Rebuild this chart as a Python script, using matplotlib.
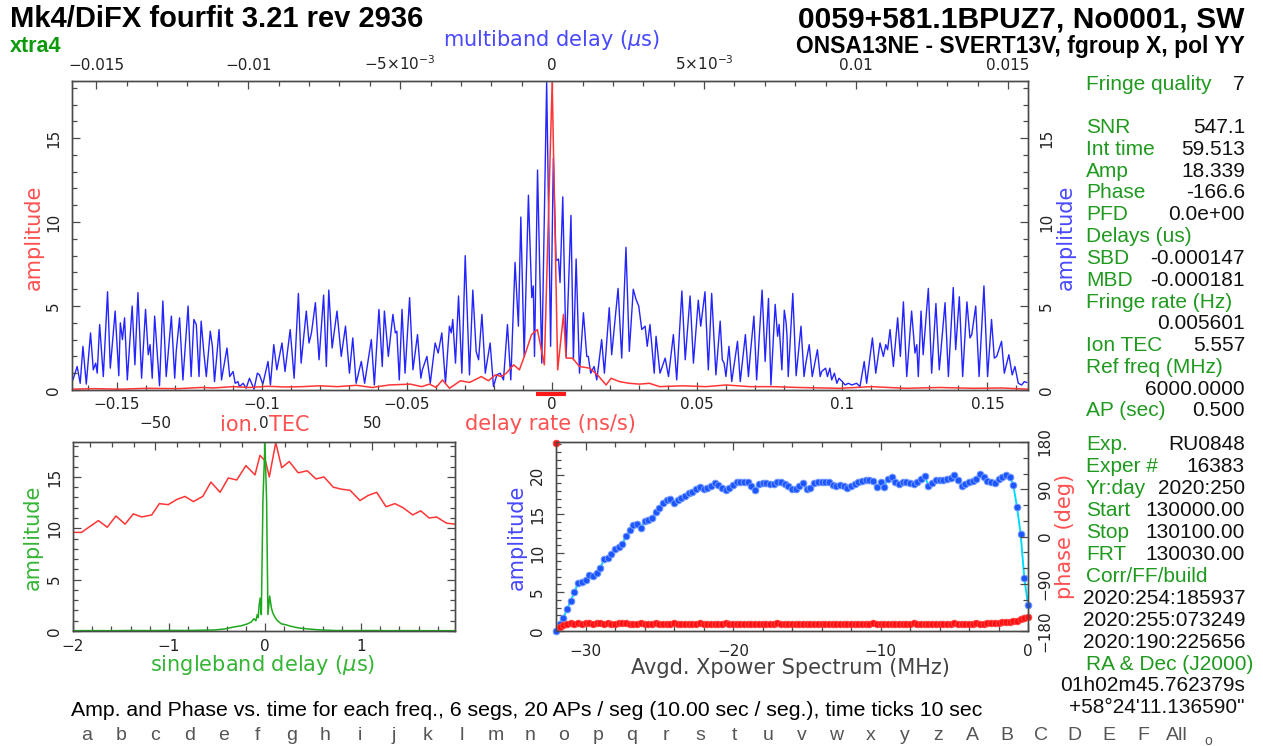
#!/usr/bin/env python3
"""Fourfit-style fringe plot: delay/rate functions, SBD/TEC, cross-power spectrum."""

import numpy as np
import matplotlib

matplotlib.use("Agg")
import matplotlib.pyplot as plt
import matplotlib.transforms as mtransforms
from matplotlib.ticker import MultipleLocator, FuncFormatter

W, H = 1263, 746

# ---- top panel: multiband delay function (ns of MBD) and delay-rate function (ns/s)
MBD_NS = [
    -15.77, -15.63, -15.53, -15.44, -15.33, -15.19, -15.10, -15.02, -14.97, -14.89,
    -14.77, -14.63, -14.54, -14.38, -14.26, -14.21, -14.14, -14.07, -13.98, -13.82,
    -13.73, -13.63, -13.51, -13.38, -13.29, -13.23, -13.16, -13.08, -12.92, -12.81,
    -12.70, -12.53, -12.42, -12.37, -12.26, -12.15, -11.98, -11.88, -11.79, -11.71,
    -11.62, -11.55, -11.46, -11.38, -11.25, -11.18, -11.11, -10.96, -10.88, -10.70,
    -10.61, -10.50, -10.43, -10.34, -10.29, -10.17, -10.07, -9.96, -9.81, -9.70,
    -9.63, -9.52, -9.35, -9.27, -9.16, -9.06, -8.89, -8.79, -8.62, -8.49,
    -8.35, -8.26, -8.09, -8.00, -7.92, -7.79, -7.67, -7.52, -7.43, -7.35,
    -7.24, -7.08, -6.94, -6.80, -6.67, -6.56, -6.45, -6.28, -6.17, -5.95,
    -5.85, -5.70, -5.59, -5.52, -5.39, -5.24, -5.16, -5.11, -5.03, -4.94,
    -4.84, -4.69, -4.58, -4.43, -4.32, -4.27, -4.12, -4.01, -3.85, -3.75,
    -3.63, -3.51, -3.38, -3.32, -3.27, -3.18, -3.08, -2.97, -2.86, -2.72,
    -2.61, -2.50, -2.42, -2.31, -2.20, -2.04, -1.93, -1.82, -1.71, -1.60,
    -1.47, -1.36, -1.22, -1.11, -1.03, -0.92, -0.78, -0.67, -0.62, -0.58,
    -0.48, -0.34, -0.18, -0.05, 0.04, 0.13, 0.21, 0.26, 0.35, 0.46,
    0.62, 0.70, 0.79, 0.90, 1.03, 1.14, 1.19, 1.27, 1.38, 1.47,
    1.63, 1.72, 1.88, 1.96, 2.17, 2.29, 2.43, 2.54, 2.67, 2.76,
    2.85, 2.95, 3.06, 3.13, 3.22, 3.36, 3.42, 3.55, 3.72, 3.83,
    3.99, 4.10, 4.27, 4.38, 4.54, 4.65, 4.81, 4.89, 5.03, 5.14,
    5.25, 5.39, 5.53, 5.60, 5.66, 5.72, 5.82, 5.91, 6.10, 6.19,
    6.36, 6.46, 6.52, 6.64, 6.73, 6.91, 7.01, 7.12, 7.20, 7.34,
    7.42, 7.47, 7.56, 7.64, 7.70, 7.73, 7.77, 7.92, 8.03, 8.19,
    8.29, 8.35, 8.46, 8.56, 8.73, 8.82, 8.87, 9.00, 9.06, 9.14,
    9.20, 9.29, 9.37, 9.44, 9.55, 9.64, 9.75, 9.86, 10.02, 10.13,
    10.27, 10.35, 10.54, 10.65, 10.79, 10.90, 10.98, 11.04, 11.12, 11.23,
    11.37, 11.46, 11.56, 11.67, 11.83, 11.94, 12.00, 12.05, 12.14, 12.21,
    12.38, 12.49, 12.63, 12.74, 12.93, 13.04, 13.20, 13.28, 13.40, 13.51,
    13.65, 13.75, 13.81, 13.94, 14.05, 14.21, 14.33, 14.46, 14.55, 14.63,
    14.79, 14.88, 15.03, 15.14, 15.23, 15.34, 15.45, 15.54, 15.62,
]
MBD_AMP = [
    0.6, 1.4, 0.4, 2.6, 0.35, 3.4, 1.2, 1.6, 1.0, 3.9,
    0.8, 5.85, 1.3, 4.7, 0.85, 4.0, 3.0, 4.3, 0.6, 5.0,
    1.5, 5.8, 0.7, 4.8, 2.1, 2.7, 0.7, 4.4, 0.25, 5.3,
    0.8, 4.4, 0.7, 2.3, 4.3, 0.6, 5.0, 0.8, 4.2, 3.9,
    0.8, 4.1, 2.2, 0.8, 3.5, 2.6, 0.5, 3.6, 0.6, 2.5,
    0.8, 1.1, 0.4, 0.5, 0.2, 0.4, 0.1, 0.7, 0.05, 1.0,
    0.9, 0.35, 1.7, 0.3, 2.7, 1.2, 2.8, 1.1, 3.6, 0.7,
    5.75, 1.6, 4.7, 2.8, 3.4, 5.2, 1.8, 5.65, 1.4, 5.95,
    2.5, 4.7, 2.0, 3.8, 1.0, 3.1, 0.4, 1.7, 0.4, 3.0,
    0.3, 4.8, 1.4, 4.7, 2.0, 4.5, 3.4, 3.5, 0.6, 4.8,
    1.0, 5.5, 1.2, 3.3, 0.7, 1.2, 2.0, 0.4, 2.8, 2.2,
    3.4, 0.4, 3.8, 3.4, 4.2, 1.6, 5.6, 1.0, 8.0, 0.9,
    5.95, 2.3, 1.8, 4.5, 1.0, 2.8, 0.2, 0.9, 1.0, 0.6,
    3.9, 0.6, 7.6, 3.8, 10.3, 2.0, 11.6, 5.5, 6.2, 2.0,
    13.1, 1.6, 18.34, 2.6, 13.8, 7.7, 7.8, 6.4, 11.5, 2.0,
    10.4, 1.8, 7.8, 1.0, 4.6, 2.0, 2.0, 1.0, 1.4, 0.6,
    3.0, 1.0, 4.9, 2.1, 6.05, 1.9, 8.5, 2.3, 6.0, 5.4,
    5.0, 3.6, 3.8, 2.6, 3.9, 1.0, 3.2, 1.0, 1.9, 0.8,
    3.3, 0.6, 5.9, 1.8, 5.6, 1.6, 5.35, 3.8, 5.85, 1.2,
    5.75, 0.9, 4.1, 1.8, 1.6, 0.8, 2.6, 0.5, 2.9, 0.5,
    3.3, 0.8, 2.1, 4.4, 0.6, 5.95, 1.7, 5.45, 0.3, 5.1,
    3.2, 3.9, 1.2, 4.75, 4.0, 3.2, 0.8, 5.75, 0.85, 3.8,
    0.8, 1.6, 2.7, 0.8, 2.4, 0.8, 1.1, 1.3, 0.8, 1.3,
    0.6, 1.0, 0.4, 0.7, 0.5, 0.3, 0.4, 0.3, 0.4, 0.2,
    1.7, 0.4, 3.1, 1.0, 2.8, 2.0, 2.7, 2.4, 3.6, 1.4,
    4.3, 2.0, 5.25, 0.8, 4.7, 2.2, 2.7, 0.8, 4.7, 2.1,
    6.05, 1.0, 5.15, 1.2, 5.2, 0.8, 6.1, 2.4, 5.55, 0.8,
    5.25, 3.1, 3.3, 5.0, 0.8, 6.2, 0.8, 4.2, 1.9, 2.0,
    2.9, 1.0, 2.1, 0.9, 1.4, 0.4, 0.3, 0.5, 0.45,
]
RATE = [
    -0.1654, -0.158, -0.149, -0.140, -0.1288, -0.121, -0.1168, -0.110, -0.1044, -0.098,
    -0.0920, -0.086, -0.0802, -0.074, -0.0675, -0.062, -0.0561, -0.0489, -0.0450, -0.0423,
    -0.0400, -0.0378, -0.0354, -0.0316, -0.0285, -0.0244, -0.0220, -0.0196, -0.0175, -0.0158,
    -0.0133, -0.0113, -0.0096, -0.0071, -0.0051, -0.0027, 0.0, 0.0019, 0.0039, 0.0048,
    0.0070, 0.0094, 0.0129, 0.0156, 0.0186, 0.0203, 0.0232, 0.0265, 0.0301, 0.0335,
    0.0370, 0.0450, 0.0531, 0.060, 0.0680, 0.0760, 0.085, 0.0991, 0.110, 0.122,
    0.1336, 0.145, 0.155, 0.1639,
]
RATE_AMP = [
    0.05, 0.08, 0.05, 0.1, 0.08, 0.15, 0.12, 0.2, 0.15, 0.22,
    0.18, 0.2, 0.25, 0.2, 0.28, 0.15, 0.3, 0.35, 0.2, 0.35,
    0.15, 0.6, 0.1, 0.55, 0.45, 0.8, 0.55, 0.9, 0.8, 1.0,
    1.5, 1.2, 2.0, 3.3, 3.6, 1.5, 18.34, 1.2, 4.5, 1.9,
    1.9, 1.4, 1.3, 0.9, 0.3, 0.7, 0.5, 0.4, 0.35, 0.4,
    0.2, 0.25, 0.2, 0.3, 0.2, 0.2, 0.15, 0.1, 0.2, 0.1,
    0.15, 0.1, 0.12, 0.05,
]
RATE_WINDOW = [-0.0055, 0.0048]

# ---- bottom left: singleband delay (us) and ionosphere TEC search
SBD_US = [
    -2.0, -1.8, -1.6, -1.4, -1.2, -1.0, -0.8, -0.66, -0.525, -0.42,
    -0.32, -0.25, -0.18, -0.14, -0.115, -0.095, -0.08, -0.07, -0.062, -0.05,
    -0.038, -0.021, 0.0, 0.017, 0.031, 0.049, 0.066, 0.08, 0.1, 0.13,
    0.17, 0.22, 0.274, 0.35, 0.446, 0.55, 0.72, 0.9, 1.1, 1.3,
    1.5, 1.7, 1.98,
]
SBD_AMP = [
    0.03, 0.04, 0.03, 0.05, 0.04, 0.06, 0.05, 0.08, 0.1, 0.2,
    0.4, 0.5, 0.7, 0.9, 1.2, 1.0, 1.6, 1.3, 2.4, 3.2,
    1.6, 12.7, 18.34, 12.7, 1.6, 3.4, 2.3, 1.8, 1.4, 1.0,
    0.7, 0.6, 0.45, 0.3, 0.2, 0.12, 0.05, 0.04, 0.05, 0.03,
    0.04, 0.03, 0.03,
]
TEC = [
    -88.0, -84.0, -76.2, -72.1, -68.1, -63.9, -60.1, -56.2, -51.6, -48.1,
    -44.0, -40.1, -36.3, -32.4, -28.1, -24.3, -20.1, -16.3, -12.4, -8.2,
    -4.0, -1.7, 0.9, 2.6, 5.56, 8.3, 11.8, 15.9, 20.1, 24.1,
    27.8, 32.1, 36.0, 39.8, 44.4, 48.2, 52.1, 56.4, 60.5, 64.3,
    68.7, 72.4, 76.3, 79.7, 84.3, 88.2,
]
TEC_AMP = [
    9.6, 9.6, 10.75, 10.1, 11.2, 10.4, 11.4, 11.1, 11.3, 12.4,
    12.3, 12.8, 13.1, 12.6, 13.1, 14.5, 13.5, 14.9, 14.7, 16.1,
    15.2, 17.1, 16.5, 15.0, 18.34, 15.9, 16.5, 15.4, 15.6, 14.8,
    15.0, 14.0, 13.8, 13.7, 12.7, 13.2, 13.5, 12.1, 12.4, 12.0,
    11.3, 11.7, 11.0, 11.1, 10.5, 10.4,
]

# ---- bottom right: averaged cross-power spectrum, 0.25 MHz channels from -32 to 0 MHz
SPEC_AMP = [
    0.0, 0.9, 1.7, 2.8, 3.9, 5.0, 6.2, 6.3, 6.5, 7.2,
    7.1, 7.4, 8.1, 9.2, 9.4, 9.9, 10.6, 10.8, 11.2, 12.2,
    13.0, 13.6, 13.7, 13.3, 14.1, 14.3, 14.5, 15.3, 15.8, 16.4,
    16.8, 17.0, 16.4, 16.8, 17.1, 17.4, 17.7, 17.9, 18.2, 18.5,
    18.3, 18.4, 18.7, 19.0, 18.8, 18.4, 18.1, 18.4, 18.8, 19.1,
    19.2, 19.2, 19.2, 18.6, 18.1, 18.9, 19.0, 19.0, 18.9, 18.9,
    19.1, 19.2, 18.9, 18.6, 18.3, 18.3, 18.7, 19.0, 18.3, 18.4,
    19.0, 19.1, 19.2, 19.2, 19.1, 18.8, 18.6, 18.8, 18.7, 18.4,
    18.6, 18.9, 19.1, 19.3, 19.4, 19.4, 19.3, 18.5, 19.1, 18.5,
    19.6, 19.8, 19.2, 18.9, 19.1, 19.2, 19.0, 18.9, 19.2, 19.6,
    19.9, 18.7, 19.0, 19.4, 19.4, 19.4, 19.5, 19.7, 20.0, 19.4,
    18.7, 18.9, 19.2, 19.3, 19.6, 20.2, 19.8, 19.3, 19.1, 19.0,
    19.5, 19.8, 20.1, 19.8, 18.8, 16.0, 12.5, 6.8, 3.4,
]
SPEC_PHASE = [
    179, -172, -168, -166, -165, -166, -165, -166, -164, -165,
    -166, -165, -164, -166, -165, -167, -166, -165, -164, -165,
    -166, -167, -166, -165, -166, -167, -166, -165, -166, -167,
    -166, -166, -165, -166, -167, -166, -166, -167, -166, -165,
    -166, -167, -166, -166, -167, -166, -165, -166, -167, -166,
    -166, -167, -167, -166, -166, -167, -166, -166, -167, -166,
    -165, -166, -167, -166, -166, -167, -167, -166, -166, -167,
    -166, -166, -167, -166, -167, -167, -166, -166, -167, -166,
    -166, -167, -166, -166, -167, -166, -165, -166, -167, -166,
    -166, -167, -166, -166, -167, -166, -166, -165, -166, -167,
    -166, -166, -167, -166, -166, -167, -166, -166, -165, -166,
    -166, -167, -166, -166, -165, -166, -166, -165, -165, -164,
    -164, -163, -163, -162, -161, -160, -158, -156, -153,
]
FREQ_MHZ = np.linspace(-32.0, 0.0, len(SPEC_AMP))

# ---- text blocks
TITLE_LEFT = "Mk4/DiFX fourfit 3.21 rev 2936"
TITLE_RIGHT = "0059+581.1BPUZ7, No0001, SW"
SUBTITLE_RIGHT = "ONSA13NE - SVERT13V, fgroup X, pol YY"
CONTROL_TAG = "xtra4"
INFO_TOP = [
    ("Fringe quality", "7"), ("", ""),
    ("SNR", "547.1"), ("Int time", "59.513"), ("Amp", "18.339"),
    ("Phase", "-166.6"), ("PFD", "0.0e+00"), ("Delays (us)", ""),
    ("SBD", "-0.000147"), ("MBD", "-0.000181"), ("Fringe rate (Hz)", ""),
    ("", "0.005601"), ("Ion TEC", "5.557"), ("Ref freq (MHz)", ""),
    ("", "6000.0000"), ("AP (sec)", "0.500"),
]
INFO_BOTTOM = [
    ("Exp.", "RU0848"), ("Exper #", "16383"), ("Yr:day", "2020:250"),
    ("Start", "130000.00"), ("Stop", "130100.00"), ("FRT", "130030.00"),
    ("Corr/FF/build", ""), ("", "2020:254:185937"), ("", "2020:255:073249"),
    ("", "2020:190:225656"), ("RA & Dec (J2000)", ""),
    ("", "01h02m45.762379s"), ("", "+58\u00b024'11.136590\""),
]
FOOTER = ("Amp. and Phase vs. time for each freq., 6 segs, 20 APs / seg "
          "(10.00 sec / seg.), time ticks 10 sec")
CHANNELS = list("abcdefghijklmnopqrstuvwxyz") + list("ABCDEF") + ["All"]

BLUE = "#2424ff"
RED = "#ff3535"
GREEN = "#1ea81e"
BLUE_LBL = "#4848ff"
RED_LBL = "#ff5050"
GREEN_LBL = "#35b535"
INFO_GREEN = "#1f9a1f"
AXC = "#4a4a4a"
TXT = "#222222"
SANS = ["Liberation Sans", "DejaVu Sans"]
NARROW = ["Liberation Sans Narrow", "Liberation Sans", "DejaVu Sans"]


def rect(left, top, right, bottom):
    return [left / W, 1 - bottom / H, (right - left) / W, (bottom - top) / H]


def ftext(fig, x, y, s, **kw):
    return fig.text(x / W, 1 - y / H, s, **kw)


def num(v, _pos=None):
    s = f"{round(v, 6):g}"
    if s in ("0", "-0"):
        return "0"
    return s.replace("-", "\u2212")


def mbd_fmt(v, _pos=None):
    v = round(v, 6)
    if abs(abs(v) - 0.005) < 1e-9:
        return r"$-5{\times}10^{-3}$" if v < 0 else r"$5{\times}10^{-3}$"
    return num(v)


def style(ax):
    for sp in ax.spines.values():
        sp.set_color(AXC)
        sp.set_linewidth(1.0)
    ax.tick_params(which="both", direction="in", color=AXC, width=0.9,
                   labelsize=11, labelcolor=TXT)
    ax.tick_params(which="major", length=6)
    ax.tick_params(which="minor", length=3.5)


def rotate_yticks(ax, pad):
    ax.tick_params(axis="y", labelrotation=90, pad=pad)
    for lbl in ax.get_yticklabels():
        lbl.set_va("center")


def main():
    plt.rcParams["font.family"] = ["DejaVu Sans"]
    plt.rcParams["mathtext.fontset"] = "dejavusans"
    fig = plt.figure(figsize=(W / 100, H / 100), dpi=100)

    # ---------------- top panel
    ax = fig.add_axes(rect(72, 81, 1028, 390))
    ax_mbd = ax.twiny()
    ax_mbd.plot(np.array(MBD_NS) / 1000.0, MBD_AMP, color=BLUE, lw=1.0)
    ax.plot(RATE, RATE_AMP, color=RED, lw=1.1)
    ax.set_zorder(ax_mbd.get_zorder() + 1)
    ax.patch.set_visible(False)
    ax.set_xlim(-0.1655, 0.164)
    ax_mbd.set_xlim(-0.0158, 0.01566)
    ax.set_ylim(0, 18.4)
    for a in (ax, ax_mbd):
        style(a)
    ax.xaxis.set_major_locator(MultipleLocator(0.05))
    ax.xaxis.set_minor_locator(MultipleLocator(0.01))
    ax.xaxis.set_major_formatter(FuncFormatter(num))
    ax.set_yticks([0, 5, 10, 15])
    ax.yaxis.set_minor_locator(MultipleLocator(1))
    ax.yaxis.set_major_formatter(FuncFormatter(num))
    ax.tick_params(which="both", top=False, right=True, labelright=True)
    ax.tick_params(axis="x", pad=5)
    rotate_yticks(ax, 8)
    ax_mbd.set_xticks([-0.015, -0.01, -0.005, 0, 0.005, 0.01, 0.015])
    ax_mbd.xaxis.set_minor_locator(MultipleLocator(0.001))
    ax_mbd.xaxis.set_major_formatter(FuncFormatter(mbd_fmt))
    ax_mbd.tick_params(which="both", top=True, bottom=False, labeltop=True, pad=6)
    ax.plot(RATE_WINDOW, [-0.012, -0.012], color="#ff1a1a", lw=3,
            solid_capstyle="butt", clip_on=False,
            transform=mtransforms.blended_transform_factory(ax.transData, ax.transAxes))

    ax.set_xlabel("delay rate (ns/s)", color=RED_LBL, fontsize=15, va="center")
    ax.xaxis.set_label_coords(0.5, -0.110)
    ax_mbd.set_xlabel(r"multiband delay ($\mu$s)", color=BLUE_LBL, fontsize=15, va="center")
    ax_mbd.xaxis.set_label_coords(0.502, 1.132)
    ax.set_ylabel("amplitude", color=RED_LBL, fontsize=15, va="center", ha="center")
    ax.yaxis.set_label_coords(-0.040, 0.495)
    ax.text(1.040, 0.495, "amplitude", color=BLUE_LBL, fontsize=15, rotation=90,
            ha="center", va="center", transform=ax.transAxes)

    # ---------------- bottom left: SBD + ion TEC
    ax_sb = fig.add_axes(rect(73, 442, 455, 631))
    ax_tec = ax_sb.twiny()
    ax_tec.plot(TEC, TEC_AMP, color=RED, lw=1.1)
    ax_sb.plot(SBD_US, SBD_AMP, color=GREEN, lw=1.1)
    ax_sb.set_zorder(ax_tec.get_zorder() + 1)
    ax_sb.patch.set_visible(False)
    ax_sb.set_xlim(-2.0, 1.98)
    ax_tec.set_xlim(-87.9, 88.2)
    ax_sb.set_ylim(0, 18.4)
    for a in (ax_sb, ax_tec):
        style(a)
    ax_sb.set_xticks([-2, -1, 0, 1])
    ax_sb.xaxis.set_minor_locator(MultipleLocator(0.2))
    ax_sb.xaxis.set_major_formatter(FuncFormatter(num))
    ax_sb.set_yticks([0, 5, 10, 15])
    ax_sb.yaxis.set_minor_locator(MultipleLocator(1))
    ax_sb.yaxis.set_major_formatter(FuncFormatter(num))
    ax_sb.tick_params(which="both", top=False, right=True, labelright=False)
    ax_sb.tick_params(axis="x", pad=6)
    rotate_yticks(ax_sb, 8)
    ax_tec.set_xticks([-50, 0, 50])
    ax_tec.xaxis.set_minor_locator(MultipleLocator(10))
    ax_tec.xaxis.set_major_formatter(FuncFormatter(num))
    ax_tec.tick_params(which="both", top=True, bottom=False, labeltop=True, pad=8)
    ax_sb.set_xlabel(r"singleband delay ($\mu$s)", color=GREEN_LBL, fontsize=15, va="center")
    ax_sb.xaxis.set_label_coords(0.497, -0.180)
    ax_sb.set_ylabel("amplitude", color=GREEN_LBL, fontsize=15, va="center", ha="center")
    ax_sb.yaxis.set_label_coords(-0.105, 0.497)
    ax_sb.text(0.485, 1.09, "ion.", color=RED_LBL, fontsize=15, ha="right",
               va="center", transform=ax_sb.transAxes)
    ax_sb.text(0.513, 1.09, "TEC", color=RED_LBL, fontsize=15, ha="left",
               va="center", transform=ax_sb.transAxes)

    # ---------------- bottom right: cross-power spectrum
    ax_sp = fig.add_axes(rect(556, 442, 1028, 631))
    ax_ph = ax_sp.twinx()
    ax_sp.plot(FREQ_MHZ, SPEC_AMP, color="#00dcff", lw=1.4, zorder=2)
    ax_sp.plot(FREQ_MHZ, SPEC_AMP, ls="none", marker="o", ms=4.8,
               mfc="#1d55ff", mec="#6f98ff", mew=0.7, zorder=3, clip_on=False)
    ax_ph.plot(FREQ_MHZ, SPEC_PHASE, ls="none", marker="o", ms=4.8,
               mfc="#ff1010", mec="#ff4a4a", mew=0.6, clip_on=False)
    ax_sp.set_xlim(-32, 0)
    ax_sp.set_ylim(0, 24.3)
    ax_ph.set_ylim(-180, 180)
    for a in (ax_sp, ax_ph):
        style(a)
    ax_sp.set_xticks([-30, -20, -10, 0])
    ax_sp.xaxis.set_minor_locator(MultipleLocator(2))
    ax_sp.xaxis.set_major_formatter(FuncFormatter(num))
    ax_sp.set_yticks([0, 5, 10, 15, 20])
    ax_sp.yaxis.set_minor_locator(MultipleLocator(1))
    ax_sp.yaxis.set_major_formatter(FuncFormatter(num))
    ax_sp.tick_params(which="both", top=True, right=False)
    ax_sp.tick_params(axis="x", pad=9)
    rotate_yticks(ax_sp, 8)
    ax_ph.set_yticks([-180, -90, 0, 90, 180])
    ax_ph.yaxis.set_minor_locator(MultipleLocator(30))
    ax_ph.yaxis.set_major_formatter(FuncFormatter(num))
    rotate_yticks(ax_ph, 7)
    ax_sp.set_xlabel("Avgd. Xpower Spectrum (MHz)", color="#444444", fontsize=15, va="center")
    ax_sp.xaxis.set_label_coords(0.496, -0.196)
    ax_sp.set_ylabel("amplitude", color=BLUE_LBL, fontsize=15, va="center", ha="center")
    ax_sp.yaxis.set_label_coords(-0.083, 0.497)
    ax_ph.set_ylabel("phase (deg)", color=RED_LBL, fontsize=15, rotation=90,
                     va="center", ha="center")
    ax_ph.yaxis.set_label_coords(1.078, 0.5)

    # ---------------- header
    ftext(fig, 10, 19, TITLE_LEFT, family=SANS, fontsize=21, fontweight="bold",
          ha="left", va="center", color="black")
    ftext(fig, 10, 47, CONTROL_TAG, family=SANS, fontsize=15.5, fontweight="bold",
          ha="left", va="center", color="#0c9a0c")
    ftext(fig, 1245, 19, TITLE_RIGHT, family=SANS, fontsize=21.6, fontweight="bold",
          ha="right", va="center", color="black")
    ftext(fig, 1245, 46, SUBTITLE_RIGHT, family=SANS, fontsize=16.5, fontweight="bold",
          ha="right", va="center", color="black")

    # ---------------- info column
    def info_block(rows, y0, step):
        for i, (label, value) in enumerate(rows):
            y = y0 + i * step
            if label:
                ftext(fig, 1086, y, label, family=SANS, fontsize=15,
                      color=INFO_GREEN, ha="left", va="center")
            if value:
                ftext(fig, 1245, y, value, family=SANS, fontsize=15,
                      color="#111111", ha="right", va="center")

    info_block(INFO_TOP, 84, 21.8)
    info_block(INFO_BOTTOM, 445, 21.9)

    # ---------------- footer
    ftext(fig, 71, 711, FOOTER, family=NARROW, fontsize=15.3, color="black",
          ha="left", va="center")
    for i, ch in enumerate(CHANNELS):
        ftext(fig, 87 + 34.06 * i, 735, ch, family=NARROW, fontsize=14,
              color="#555555", ha="center", va="center")
    ftext(fig, 1208, 741, "o", family=SANS, fontsize=10, color="#555555",
          ha="center", va="center")

    fig.savefig("out.png", dpi=100, facecolor="white")
    plt.close(fig)


if __name__ == "__main__":
    main()
